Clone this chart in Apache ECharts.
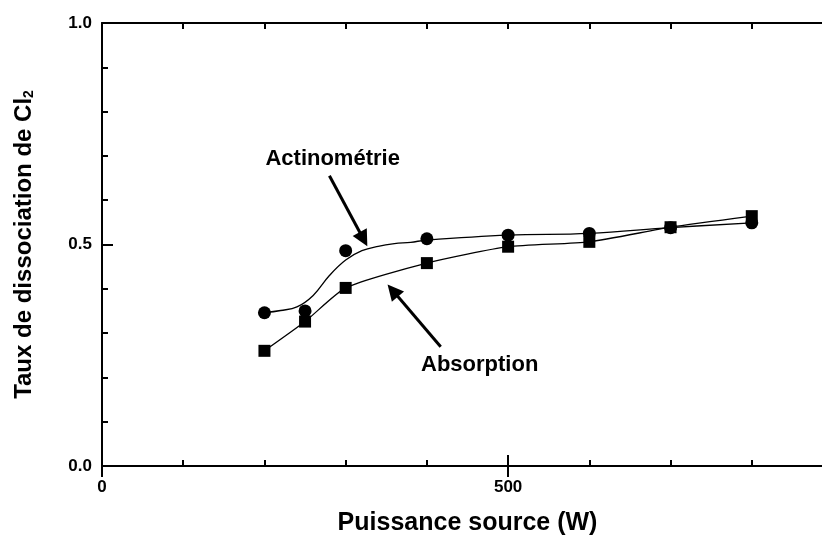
<!DOCTYPE html>
<html>
<head>
<meta charset="utf-8">
<script src="https://cdn.jsdelivr.net/npm/echarts@6/dist/echarts.min.js"></script>
<style>
  html, body { margin: 0; padding: 0; background: #fff; }
  #chart { width: 822px; height: 536px; }
</style>
</head>
<body>
<div id="chart"></div>
<script>
// Source power (W)
const powers = [200, 250, 300, 400, 500, 600, 700, 800];
// Cl2 dissociation rate measured by actinometry
const actinometry = [0.346, 0.350, 0.486, 0.513, 0.521, 0.525, 0.538, 0.549];
// Cl2 dissociation rate measured by absorption
const absorption = [0.260, 0.326, 0.402, 0.458, 0.495, 0.506, 0.539, 0.564];
// Fitted trend drawn through the actinometry measurements
const actinoFitPower = [200, 220, 240, 260, 280, 300, 320, 340, 360, 380, 400, 500, 600, 700, 800];
const actinoFitRate = [0.346, 0.351, 0.359, 0.385, 0.430, 0.465, 0.486, 0.496, 0.502, 0.505, 0.510, 0.521, 0.525, 0.538, 0.549];
// Labelled ticks
const xTickLabels = [0, 500];
const yTickLabels = [0.0, 0.5, 1.0];

// Callouts in data coordinates: text anchor, arrow tail, arrow head
const callouts = [
  { text: 'Actinométrie', at: [284, 0.693], from: [280, 0.655], to: [322, 0.512] },
  { text: 'Absorption', at: [465, 0.228], from: [417, 0.269], to: [358, 0.396] }
];

const FONT = '"Liberation Sans", Arial, Helvetica, sans-serif';
const BLACK = '#000';

const zip = (xs, ys) => xs.map((x, i) => [x, ys[i]]);

const lineStyle = { color: BLACK, width: 2 };

function xAxisDef(position, interval, tickLen, withLabels) {
  return {
    type: 'value', position, min: 0, max: 900, interval,
    axisLine: { show: true, onZero: false, lineStyle },
    axisTick: { show: true, inside: true, length: tickLen, lineStyle },
    axisLabel: withLabels ? {
      show: true, margin: 13, color: BLACK, fontFamily: FONT, fontWeight: 'bold', fontSize: 17,
      formatter: v => (xTickLabels.includes(v) ? String(v) : '')
    } : { show: false },
    splitLine: { show: false }
  };
}

function yAxisDef(position, withLabels) {
  return {
    type: 'value', position, min: 0, max: 1, interval: 0.5,
    axisLine: { show: true, onZero: false, lineStyle },
    axisTick: { show: true, inside: true, length: 11, lineStyle },
    minorTick: { show: true, splitNumber: 5, length: 6, lineStyle },
    axisLabel: withLabels ? {
      show: true, margin: 10, color: BLACK, fontFamily: FONT, fontWeight: 'bold', fontSize: 17,
      formatter: v => (yTickLabels.some(t => Math.abs(t - v) < 1e-9) ? v.toFixed(1) : '')
    } : { show: false },
    splitLine: { show: false },
    minorSplitLine: { show: false }
  };
}

const bottomMinor = xAxisDef('bottom', 100, 6, true);
bottomMinor.name = 'Puissance source (W)';
bottomMinor.nameLocation = 'middle';
bottomMinor.nameGap = 45;
bottomMinor.nameTextStyle = { color: BLACK, fontFamily: FONT, fontWeight: 'bold', fontSize: 25 };

const bottomMajor = xAxisDef('bottom', 500, 11, false);
bottomMajor.axisLine = { show: false };
const topMinor = xAxisDef('top', 100, 6, false);
const topMajor = xAxisDef('top', 500, 11, false);
topMajor.axisLine = { show: false };

const leftAxis = yAxisDef('left', true);
leftAxis.name = 'Taux de dissociation de Cl{sub|2}';
leftAxis.nameLocation = 'middle';
leftAxis.nameRotate = 90;
leftAxis.nameGap = 66;
leftAxis.nameTextStyle = {
  color: BLACK, fontFamily: FONT, fontWeight: 'bold', fontSize: 24,
  rich: {
    sub: { color: BLACK, fontFamily: FONT, fontWeight: 'bold', fontSize: 14, verticalAlign: 'bottom', padding: [10, 0, 0, 0] }
  }
};
const rightAxis = yAxisDef('right', false);

const chart = echarts.init(document.getElementById('chart'), null, { renderer: 'canvas' });

chart.setOption({
  backgroundColor: '#fff',
  animation: false,
  grid: { left: 102, top: 23, width: 731, height: 443, containLabel: false, outerBoundsMode: 'none' },
  xAxis: [bottomMinor, bottomMajor, topMinor, topMajor],
  yAxis: [leftAxis, rightAxis],
  series: [
    {
      name: 'Actinométrie (ajustement)',
      type: 'line',
      data: zip(actinoFitPower, actinoFitRate),
      smooth: 0.4,
      showSymbol: false,
      lineStyle: { color: BLACK, width: 1.3 },
      z: 2
    },
    {
      name: 'Actinométrie',
      type: 'scatter',
      data: zip(powers, actinometry),
      symbol: 'circle',
      symbolSize: 13,
      itemStyle: { color: BLACK, opacity: 1 },
      z: 3
    },
    {
      name: 'Absorption',
      type: 'line',
      data: zip(powers, absorption),
      smooth: 0.2,
      symbol: 'rect',
      symbolSize: 12,
      showAllSymbol: true,
      itemStyle: { color: BLACK, opacity: 1 },
      lineStyle: { color: BLACK, width: 1.3 },
      z: 4
    },
    {
      name: 'Annotations',
      type: 'scatter',
      data: callouts.map(c => ({ value: c.at, name: c.text })),
      symbolSize: 0,
      silent: true,
      itemStyle: { color: BLACK, opacity: 1 },
      label: {
        show: true, position: 'inside', formatter: p => p.name, opacity: 1,
        color: BLACK, fontFamily: FONT, fontWeight: 'bold', fontSize: 22
      },
      markLine: {
        silent: true,
        symbol: ['none', 'triangle'],
        symbolSize: 16,
        label: { show: false },
        itemStyle: { color: BLACK, opacity: 1 },
        lineStyle: { color: BLACK, width: 3, type: 'solid', opacity: 1 },
        data: callouts.map(c => [{ coord: c.from }, { coord: c.to }])
      },
      z: 5
    }
  ]
});
</script>
</body>
</html>
